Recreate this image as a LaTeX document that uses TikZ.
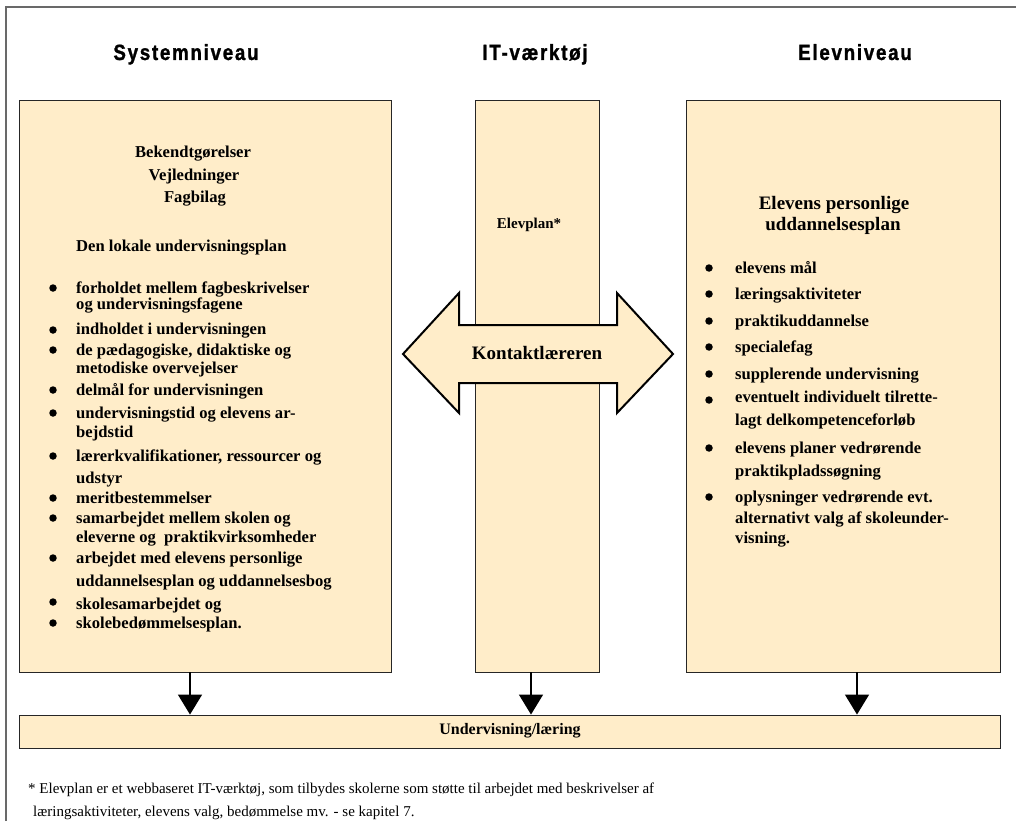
\documentclass[tikz,border=0pt]{standalone}
\usepackage{fontspec}
\setmainfont{Liberation Serif}
\newfontfamily\headfont[LetterSpace=8,FakeStretch=0.85,FakeBold=1.2]{Liberation Sans}
\usetikzlibrary{arrows.meta}
\definecolor{beige}{RGB}{255,237,201}
\definecolor{framegrey}{RGB}{105,105,105}
\begin{document}
\begin{tikzpicture}[x=1pt,y=-1pt,
  box/.style={draw=black!85, line width=0.9pt, fill=beige, inner sep=0pt},
  head/.style={font=\headfont\bfseries\fontsize{22}{24}\selectfont, inner sep=0pt, anchor=base},
  txt/.style={font=\bfseries\fontsize{16.6}{18}\selectfont, anchor=base west, inner sep=0pt},
  ctr/.style={font=\bfseries\fontsize{16.6}{18}\selectfont, anchor=base, inner sep=0pt},
  bul/.style={circle, fill=black, inner sep=0pt, minimum size=7.5pt},
  down/.style={-{Triangle[length=20pt,width=24pt]}, line width=1.5pt},
  foot/.style={font=\fontsize{15}{17}\selectfont, anchor=base west, inner sep=0pt}
]
\useasboundingbox (0,0) rectangle (1016,821);
\draw[framegrey, line width=1.5pt] (6,821) -- (6,7) -- (1016,7);

% headings
\node[head] (h1) at (186,60) {Systemniveau};
\node[head] (h2) at (535,60) {IT-værktøj};
\node[head] (h3) at (855,60) {Elevniveau};

% boxes
\node[box, minimum width=372pt, minimum height=572pt] (lbox) at (205,386) {};
\node[box, minimum width=124pt, minimum height=572pt] (mbox) at (537,386) {};
\node[box, minimum width=314pt, minimum height=572pt] (rbox) at (843,386) {};
\node[box, minimum width=981pt, minimum height=33pt] (bot) at (509.5,731.5) {};
\node[font=\bfseries\fontsize{16}{18}\selectfont, inner sep=0pt] (botlbl) at (510,731) {Undervisning/læring};

% double arrow
\draw[fill=beige, line width=2pt, line join=miter]
  (403,354) -- (459,293) -- (459,325) -- (617,325) -- (617,293) -- (673,354)
  -- (617,413) -- (617,383) -- (459,383) -- (459,413) -- cycle;
\node[font=\bfseries\fontsize{19}{22}\selectfont, inner sep=0pt] (kontakt) at (537,353) {Kontaktlæreren};
\node[font=\bfseries\fontsize{15}{18}\selectfont, inner sep=0pt] (elevplan) at (529,225) {Elevplan*};

% left box text
\node[ctr] (b1) at (193,158) {Bekendtgørelser};
\node[ctr] (b2) at (194,180) {Vejledninger};
\node[ctr] (b3) at (195,202) {Fagbilag};
\node[txt] (b4) at (76,251) {Den lokale undervisningsplan};

\foreach \yy/\tt [count=\i] in {
  288/{forholdet mellem fagbeskrivelser},
  304/{og undervisningsfagene},
  329/{indholdet i undervisningen},
  350/{de pædagogiske, didaktiske og},
  368/{metodiske overvejelser},
  390/{delmål for undervisningen},
  413/{undervisningstid og elevens ar-},
  432/{bejdstid},
  456/{lærerkvalifikationer, ressourcer og},
  478/{udstyr},
  498/{meritbestemmelser},
  518/{samarbejdet mellem skolen og},
  537/{eleverne og \ praktikvirksomheder},
  558/{arbejdet med elevens personlige},
  581/{uddannelsesplan og uddannelsesbog},
  604/{skolesamarbejdet og},
  623/{skolebedømmelsesplan.}}
  \node[txt] (l\i) at (76,\yy+5) {\tt};

\foreach \yy [count=\i] in {288,330,350,390,413,456,498,518,558,602,623}
  \node[bul] (lb\i) at (53,\yy) {};

% right box text
\node[font=\bfseries\fontsize{19}{22}\selectfont, inner sep=0pt, anchor=base] (r0a) at (834,209) {Elevens personlige};
\node[font=\bfseries\fontsize{19}{22}\selectfont, inner sep=0pt, anchor=base] (r0b) at (833,230) {uddannelsesplan};

\foreach \yy/\tt [count=\i] in {
  268/{elevens mål},
  294/{læringsaktiviteter},
  321/{praktikuddannelse},
  347/{specialefag},
  374/{supplerende undervisning},
  397/{eventuelt individuelt tilrette-},
  420/{lagt delkompetenceforløb},
  448/{elevens planer vedrørende},
  471/{praktikpladssøgning},
  497/{oplysninger vedrørende evt.},
  518/{alternativt valg af skoleunder-},
  538/{visning.}}
  \node[txt] (r\i) at (735,\yy+5) {\tt};

\foreach \yy [count=\i] in {268,294,321,347,374,400,448,497}
  \node[bul] (rb\i) at (709,\yy) {};

% down arrows
\coordinate (xa) at (190,0);
\coordinate (xb) at (531,0);
\coordinate (xc) at (857,0);
\draw[down] (xa |- lbox.south) -- (xa |- bot.north);
\draw[down] (xb |- mbox.south) -- (xb |- bot.north);
\draw[down] (xc |- rbox.south) -- (xc |- bot.north);

% footnote
\node[foot] (f1) at (28,793) {* Elevplan er et webbaseret IT-værktøj, som tilbydes skolerne som støtte til arbejdet med beskrivelser af};
\node[foot] (f2) at (33,816) {læringsaktiviteter, elevens valg, bedømmelse mv. - se kapitel 7.};
\end{tikzpicture}
\end{document}
